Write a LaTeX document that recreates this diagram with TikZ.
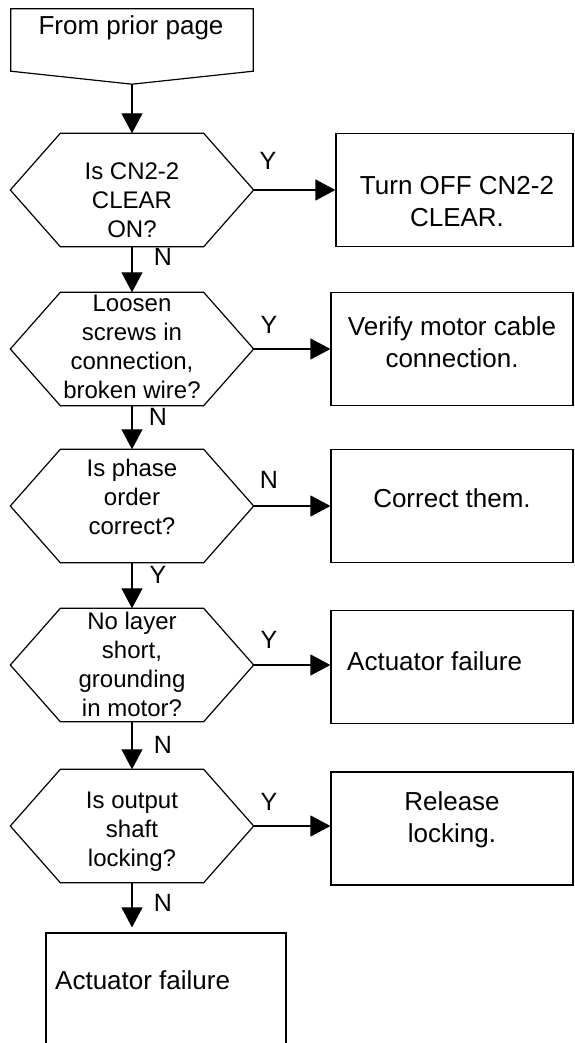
\documentclass[tikz,border=0pt]{standalone}
\usepackage{fontspec}
\setmainfont{Liberation Sans}
\usetikzlibrary{arrows.meta,positioning}
\tikzset{
  line/.style={draw, line width=1.2pt},
  arr/.style={-{Triangle[length=20pt,width=21pt]}, line width=1.2pt},
  decision/.style={minimum width=243pt, minimum height=113pt, inner sep=0pt},
  action/.style={draw, line width=1.2pt, minimum width=242pt, minimum height=113pt, inner sep=0pt},
  qtxt/.style={align=center, font=\fontsize{24}{29}\selectfont, inner sep=0pt},
  atxt/.style={align=center, font=\fontsize{26}{32}\selectfont, inner sep=0pt},
  yn/.style={font=\fontsize{25}{30}\selectfont, inner sep=0pt}}
\begin{document}
\begin{tikzpicture}[x=1pt, y=-1pt]
  \useasboundingbox (0,0) rectangle (574,1043);
  \node[minimum width=242pt, minimum height=75pt, inner sep=0pt] (start) at (132,46.5) {};
  \draw[line] (start.north west) -- (start.north east) -- ([yshift=13pt]start.south east) -- (start.south) -- ([yshift=13pt]start.south west) -- cycle;
  \node[atxt] (tstart) at (131,28) {From prior page};
  \foreach \n/\y/\ty/\t in {q1/190/200/{Is CN2-2\\CLEAR\\ON?}, q2/349/347/{Loosen\\screws in\\connection,\\broken wire?}, q3/506/497/{Is phase\\order\\correct?}, q4/665/664/{No layer\\short,\\grounding\\in motor?}, q5/826/832/{Is output\\shaft\\locking?}} {
    \node[decision] (\n) at (132,\y) {};
    \draw[line] (\n.west) -- ([xshift=50pt]\n.north west) -- ([xshift=-50pt]\n.north east) -- (\n.east) -- ([xshift=-50pt]\n.south east) -- ([xshift=50pt]\n.south west) -- cycle;
    \node[qtxt] (t\n) at (132,\ty) {\t};
  }
  \node[action, minimum width=237pt] (a1) at (454.5,190) {};
  \node[action] (a2) at (452,349) {};
  \node[action] (a3) at (452,506) {};
  \node[action] (a4) at (452,667) {};
  \node[action] (a5) at (452,828.5) {};
  \node[action, minimum width=240pt, minimum height=120pt] (fin) at (166,993) {};
  \node[atxt] (ta1) at (457,202) {Turn OFF CN2-2\\CLEAR.};
  \node[atxt] (ta2) at (452,342) {Verify motor cable\\connection.};
  \node[atxt] (ta3) at (452,498) {Correct them.};
  \node[atxt, anchor=west] (ta4) at (347,661) {Actuator failure};
  \node[atxt] (ta5) at (452,820) {Release\\locking.};
  \node[atxt, anchor=west] (tfin) at (55,980) {Actuator failure};
  \draw[arr] (start.south) -- (q1.north);
  \foreach \a/\b in {q1/q2, q2/q3, q3/q4, q4/q5} \draw[arr] (\a.south) -- (\b.north);
  \draw[arr, shorten >=5pt] (q5.south) -- (q5.south |- fin.north);
  \foreach \i in {1,...,5} \draw[arr] (q\i.east) -- (q\i.east -| a\i.west);
  \foreach \n/\x/\y/\t in {n1/163/257/N, n2/158/417/N, n3/158/575/Y, n4/163/745/N, n5/163/903/N, y1/268/161/Y, y2/269/325/Y, y3/269/480/N, y4/269/640/Y, y5/269/802/Y}
    \node[yn] (\n) at (\x,\y) {\t};
\end{tikzpicture}
\end{document}
